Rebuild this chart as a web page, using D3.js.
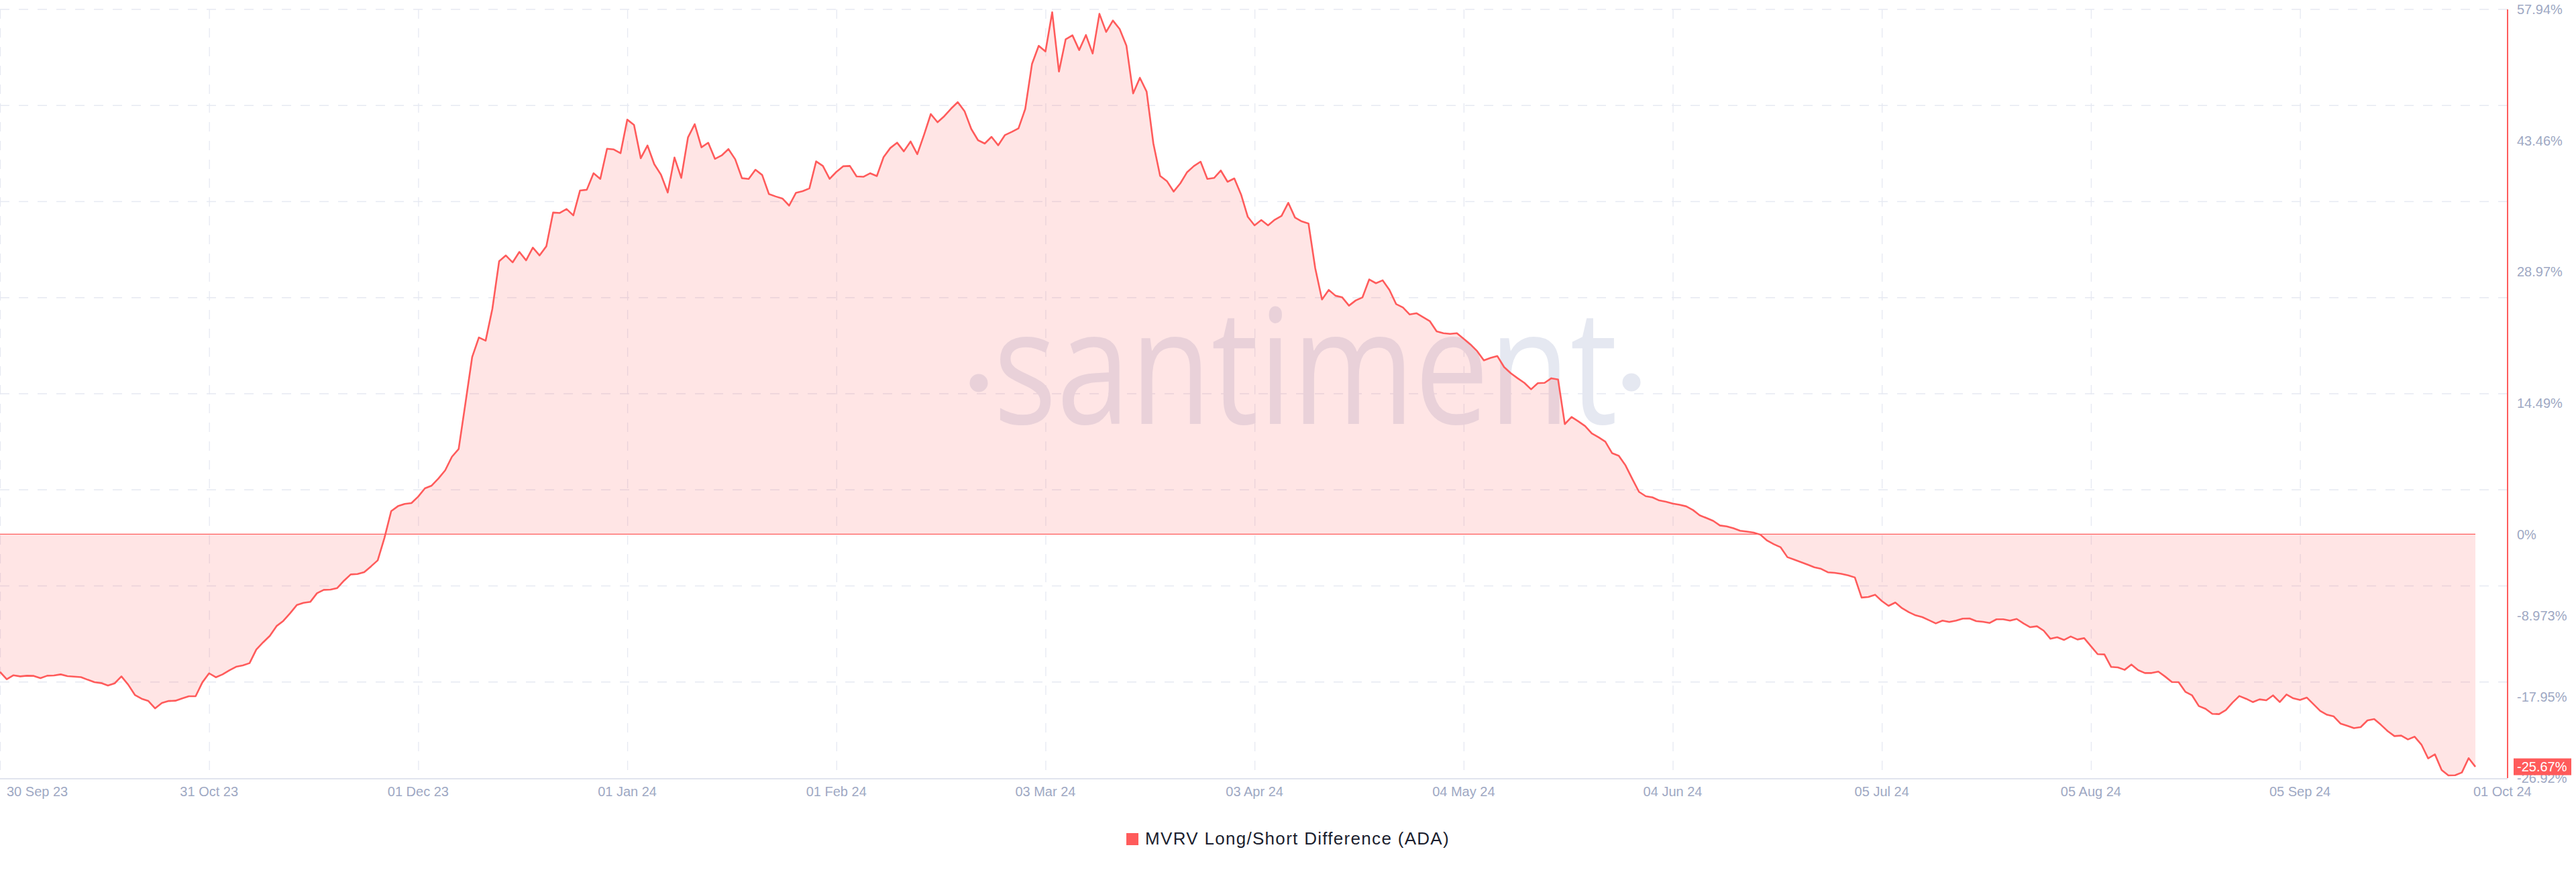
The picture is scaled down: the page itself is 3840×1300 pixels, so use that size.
<!DOCTYPE html>
<html><head><meta charset="utf-8">
<script src="https://cdn.jsdelivr.net/npm/d3@7"></script>
<style>html,body{margin:0;padding:0;background:#fff;} svg{display:block;}</style>
</head><body><svg id="chart" width="3840" height="1300"></svg>
<script>
// ---------- DATA ----------
const startDate = "2023-09-30";   // one value per day from this date
const mvrvValues = [
  // 30 Sep 23 ->
  -15.20,-16.01,-15.57,-15.69,-15.62,-15.64,-15.89,-15.62,-15.59,-15.47,
  -15.67,-15.72,-15.77,-16.06,-16.33,-16.43,-16.70,-16.46,-15.69,-16.60,
  -17.74,-18.16,-18.41,-19.22,-18.63,-18.41,-18.38,-18.13,-17.89,-17.89,
  -16.36,-15.35,-15.79,-15.47,-15.02,-14.63,-14.48,-14.23,-12.73,-11.94,
  -11.22,-10.14,-9.57,-8.73,-7.82,-7.57,-7.47,-6.51,-6.14,-6.11,
  -5.94,-5.13,-4.44,-4.39,-4.19,-3.55,-2.88,-0.40,2.55,3.10,
  3.35,3.44,4.15,5.07,5.37,6.15,7.05,8.55,9.41,14.44,
  19.55,21.72,21.37,24.90,30.13,30.78,30.01,31.17,30.24,31.64,
  30.78,31.79,35.51,35.47,35.90,35.20,37.95,38.03,39.85,39.23,
  42.56,42.48,42.06,45.77,45.19,41.51,42.91,40.85,39.69,37.72,
  41.59,39.34,43.80,45.27,42.71,43.22,41.44,41.82,42.52,41.40,
  39.31,39.23,40.24,39.66,37.56,37.29,37.06,36.28,37.68,37.87,
  38.18,41.16,40.66,39.23,40.00,40.62,40.66,39.50,39.46,39.85,
  39.54,41.63,42.64,43.23,42.27,43.36,41.95,44.10,46.39,45.48,
  46.15,46.98,47.70,46.71,44.74,43.50,43.13,43.87,42.94,44.07,
  44.42,44.81,46.94,51.90,53.92,53.30,57.62,51.08,54.64,55.08,
  53.45,55.11,53.06,57.45,55.45,56.71,55.77,53.95,48.66,50.39,
  48.86,43.13,39.56,38.99,37.83,38.74,39.97,40.64,41.13,39.23,
  39.33,40.15,38.91,39.28,37.51,35.04,34.10,34.69,34.10,34.72,
  35.14,36.59,34.96,34.54,34.30,29.36,25.91,26.97,26.33,26.15,
  25.24,25.81,26.15,28.13,27.71,28.03,26.97,25.40,25.04,24.26,
  24.40,23.96,23.51,22.39,22.19,22.12,22.19,21.58,20.96,20.22,
  19.20,19.47,19.67,18.45,17.77,17.22,16.71,16.00,16.68,16.71,
  17.22,17.09,12.16,12.94,12.46,11.95,11.14,10.70,10.22,8.96,
  8.66,7.60,6.11,4.68,4.20,4.07,3.73,3.59,3.39,3.25,
  3.08,2.67,2.09,1.79,1.48,0.97,0.87,0.66,0.39,0.29,
  0.18,-0.05,-0.70,-1.10,-1.44,-2.53,-2.80,-3.07,-3.35,-3.65,
  -3.82,-4.20,-4.26,-4.37,-4.54,-4.77,-6.99,-6.93,-6.68,-7.37,
  -7.91,-7.54,-8.16,-8.60,-8.95,-9.15,-9.49,-9.84,-9.54,-9.69,
  -9.54,-9.32,-9.30,-9.59,-9.67,-9.79,-9.39,-9.39,-9.54,-9.35,
  -9.84,-10.26,-10.16,-10.65,-11.54,-11.37,-11.67,-11.29,-11.62,-11.47,
  -12.36,-13.24,-13.27,-14.65,-14.70,-14.97,-14.38,-15.00,-15.32,-15.32,
  -15.17,-15.71,-16.31,-16.33,-17.39,-17.79,-18.97,-19.27,-19.83,-19.86,
  -19.42,-18.58,-17.86,-18.16,-18.53,-18.23,-18.33,-17.79,-18.53,-17.69,
  -18.11,-18.30,-18.03,-18.77,-19.51,-19.93,-20.11,-20.90,-21.14,-21.41,
  -21.29,-20.55,-20.40,-21.04,-21.74,-22.28,-22.23,-22.65,-22.35,-23.22,
  -24.75,-24.30,-26.03,-26.62,-26.60,-26.30,-24.72,-25.67
];
const xTickDates  = ["2023-09-30","2023-10-31","2023-12-01","2024-01-01","2024-02-01","2024-03-03",
                     "2024-04-03","2024-05-04","2024-06-04","2024-07-05","2024-08-05","2024-09-05","2024-10-01"];
const xTickLabels = ["30 Sep 23","31 Oct 23","01 Dec 23","01 Jan 24","01 Feb 24","03 Mar 24",
                     "03 Apr 24","04 May 24","04 Jun 24","05 Jul 24","05 Aug 24","05 Sep 24","01 Oct 24"];
const yTickValues = [57.94, 43.46, 28.97, 14.49, 0, -8.973, -17.95, -26.92];
const yTickLabels = ["57.94%","43.46%","28.97%","14.49%","0%","-8.973%","-17.95%","-26.92%"];
const yDomain = [-26.92, 57.94];
const gridDivisions = 8;
const lastValueLabel = "-25.67%";
const seriesName = "MVRV Long/Short Difference (ADA)";
const watermarkWord = "santiment";

// ---------- LAYOUT ----------
const W = 3840, H = 1300;
const plot = {left: 0, top: 14, width: 3738, height: 1146};
const dataRight = 3690;
const red = "#ff5b5b";
const gridColor = "#e6e9f2";
const axisText = "#9ea8c3";
const fontAxis = "'Liberation Sans', Arial, Helvetica, sans-serif";

const parse = d3.utcParse("%Y-%m-%d");
const t0 = parse(startDate);
const data = mvrvValues.map((v, i) => ({date: d3.utcDay.offset(t0, i), value: v}));

const x = d3.scaleUtc().domain([t0, data[data.length - 1].date]).range([0, dataRight]);
const y = d3.scaleLinear().domain(yDomain).range([plot.height, 0]);

const svg = d3.select("#chart");
const g = svg.append("g").attr("transform", `translate(${plot.left},${plot.top})`);

// grid lines (horizontal, evenly spaced)
const gridVals = d3.range(gridDivisions + 1).map(k => yDomain[0] + k * (yDomain[1] - yDomain[0]) / gridDivisions);
g.append("g").selectAll("line").data(gridVals.slice(1)).join("line")
  .attr("x1", 0).attr("x2", plot.width)
  .attr("y1", d => y(d)).attr("y2", d => y(d))
  .attr("stroke", gridColor).attr("stroke-width", 1.3).attr("stroke-dasharray", "14,14");

// grid lines (vertical at date ticks, except the final end label)
const tickDates = xTickDates.map(parse);
g.append("g").selectAll("line").data(tickDates.slice(0, -1)).join("line")
  .attr("x1", d => x(d) + 0.5).attr("x2", d => x(d) + 0.5)
  .attr("y1", 0).attr("y2", plot.height)
  .attr("stroke", gridColor).attr("stroke-width", 1.3).attr("stroke-dasharray", "14,14");

// watermark
const wm = g.append("g").attr("fill", "#e5e8f1");
wm.append("text")
  .attr("x", 1481).attr("y", 632 - plot.top)
  .attr("font-family", "'Open Sans', 'Noto Sans', sans-serif")
  .attr("font-size", 238)
  .attr("textLength", 930).attr("lengthAdjust", "spacingAndGlyphs")
  .text(watermarkWord);
wm.append("circle").attr("cx", 1459).attr("cy", 571 - plot.top).attr("r", 13.5);
wm.append("circle").attr("cx", 2432).attr("cy", 570 - plot.top).attr("r", 13.5);

// area
const area = d3.area().x(d => x(d.date)).y0(y(0)).y1(d => y(d.value));
g.append("path").datum(data).attr("d", area).attr("fill", "rgba(255,91,91,0.155)");

// zero line
g.append("line")
  .attr("x1", x(data[0].date)).attr("x2", x(data[data.length - 1].date))
  .attr("y1", y(0)).attr("y2", y(0))
  .attr("stroke", red).attr("stroke-width", 1.3);

// series line
const line = d3.line().x(d => x(d.date)).y(d => y(d.value));
g.append("path").datum(data).attr("d", line)
  .attr("fill", "none").attr("stroke", red).attr("stroke-width", 2.6)
  .attr("stroke-linejoin", "round");

// bottom axis line
g.append("line").attr("x1", 0).attr("x2", plot.width)
  .attr("y1", plot.height + 1).attr("y2", plot.height + 1)
  .attr("stroke", "#e1e4ee").attr("stroke-width", 2);

// right axis line
g.append("line").attr("x1", plot.width).attr("x2", plot.width)
  .attr("y1", 0).attr("y2", plot.height)
  .attr("stroke", red).attr("stroke-width", 2);

// y labels
g.append("g").selectAll("text").data(yTickValues).join("text")
  .attr("x", plot.width + 14).attr("y", d => y(d)).attr("dy", "0.36em")
  .attr("font-family", fontAxis).attr("font-size", 20).attr("fill", axisText)
  .text((d, i) => yTickLabels[i]);

// last value badge
const lastV = data[data.length - 1].value;
g.append("rect").attr("x", plot.width + 9).attr("y", y(lastV) - 12.5)
  .attr("width", 86).attr("height", 25).attr("fill", red);
g.append("text").attr("x", plot.width + 14).attr("y", y(lastV)).attr("dy", "0.36em")
  .attr("font-family", fontAxis).attr("font-size", 20).attr("fill", "#fff")
  .text(lastValueLabel);

// x labels
const nT = tickDates.length;
g.append("g").selectAll("text").data(tickDates).join("text")
  .attr("x", (d, i) => i === 0 ? x(d) + 10 : (i === nT - 1 ? x(d) - 3 : x(d)))
  .attr("y", plot.height + 27)
  .attr("text-anchor", (d, i) => (i === 0 || i === nT - 1) ? "start" : "middle")
  .attr("font-family", fontAxis).attr("font-size", 20).attr("fill", axisText)
  .text((d, i) => xTickLabels[i]);

// legend
const lg = svg.append("g");
const lt = lg.append("text").attr("y", 1259)
  .attr("font-family", fontAxis).attr("font-size", 26).attr("fill", "#1b1e2e")
  .attr("letter-spacing", 1.3)
  .text(seriesName);
const tw = lt.node().getComputedTextLength();
const total = 18 + 10 + tw;
const lx = W / 2 - total / 2;
lg.append("rect").attr("x", lx).attr("y", 1242).attr("width", 18).attr("height", 18).attr("fill", red);
lt.attr("x", lx + 28);
</script>
</body></html>
